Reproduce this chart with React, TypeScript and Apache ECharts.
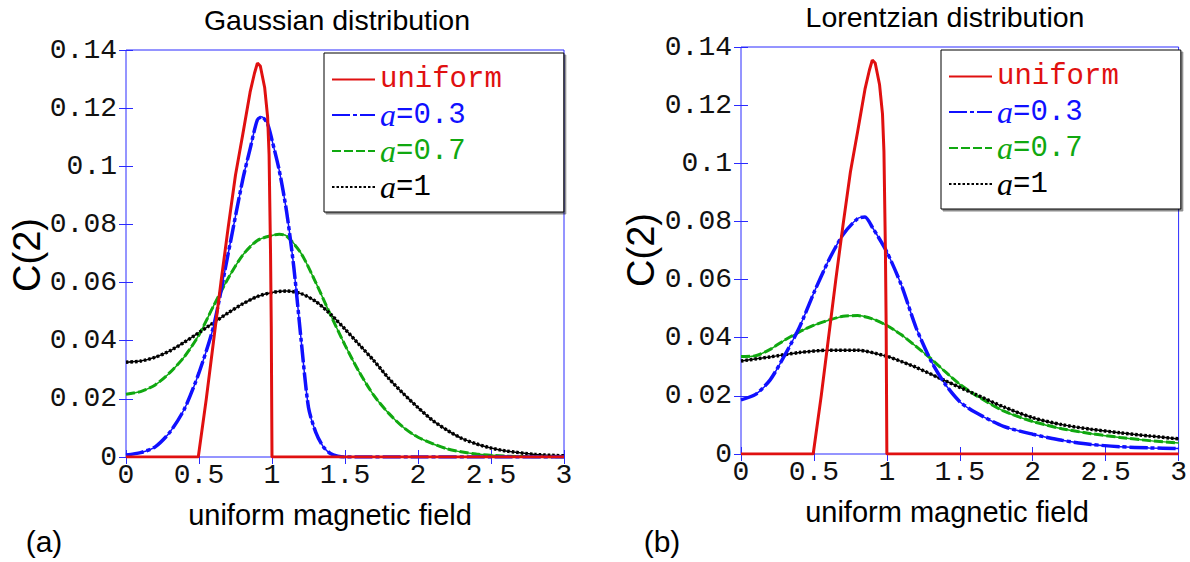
import React, { useEffect, useRef } from "react";
import * as echarts from "echarts";

// ---------------- data ----------------
const xTicks = [0, 0.5, 1, 1.5, 2, 2.5, 3];
const yTicks = [0, 0.02, 0.04, 0.06, 0.08, 0.1, 0.12, 0.14];
const seriesNames = ["uniform", "a=0.3", "a=0.7", "a=1"];

// uniform field (same in both panels)
const uniformX = [0, 0.495, 0.55, 0.6, 0.65, 0.7, 0.75, 0.8, 0.85, 0.88, 0.9, 0.92, 0.95, 0.97, 0.98, 0.99, 0.995, 1.0, 3];
const uniformY = [0, 0, 0.02, 0.04, 0.06, 0.079, 0.097, 0.111, 0.1255, 0.132, 0.1355, 0.1345, 0.127, 0.117, 0.104, 0.07, 0.045, 0, 0];

// (a) Gaussian distribution
const gaussX03 = [0, 0.1, 0.2, 0.3, 0.4, 0.5, 0.6, 0.7, 0.8, 0.85, 0.9, 0.93, 0.97, 1.0, 1.05, 1.1, 1.15, 1.2, 1.25, 1.3, 1.35, 1.4, 1.45, 1.5, 2, 2.5, 3];
const gaussY03 = [0.0007, 0.0015, 0.0035, 0.0085, 0.0165, 0.029, 0.045, 0.07, 0.0955, 0.106, 0.116, 0.117, 0.1145, 0.109, 0.0985, 0.0844, 0.065, 0.04, 0.017, 0.0085, 0.0036, 0.0012, 0.0003, 0, 0, 0, 0];

const gaussX07 = [0, 0.1, 0.2, 0.3, 0.4, 0.5, 0.6, 0.7, 0.8, 0.9, 1.0, 1.05, 1.1, 1.2, 1.3, 1.4, 1.5, 1.6, 1.7, 1.8, 1.9, 2.0, 2.2, 2.4, 2.6, 2.8, 3];
const gaussY07 = [0.0216, 0.0225, 0.0248, 0.029, 0.0345, 0.042, 0.052, 0.0615, 0.0695, 0.0745, 0.0762, 0.0766, 0.076, 0.07, 0.06, 0.049, 0.0385, 0.029, 0.021, 0.015, 0.0102, 0.0068, 0.0028, 0.001, 0.0003, 0.0001, 0];

const gaussX1 = [0, 0.1, 0.2, 0.3, 0.4, 0.5, 0.6, 0.7, 0.8, 0.9, 1.0, 1.1, 1.2, 1.3, 1.4, 1.5, 1.6, 1.7, 1.8, 1.9, 2.0, 2.1, 2.2, 2.3, 2.4, 2.5, 2.6, 2.8, 3];
const gaussY1 = [0.0326, 0.033, 0.0343, 0.0365, 0.0395, 0.0428, 0.0462, 0.0496, 0.0527, 0.0552, 0.0566, 0.0571, 0.0562, 0.0535, 0.0492, 0.044, 0.0385, 0.033, 0.027, 0.0218, 0.017, 0.0126, 0.0092, 0.0064, 0.0045, 0.0031, 0.0021, 0.0009, 0.0004];

// (b) Lorentzian distribution
const lorX03 = [0, 0.1, 0.2, 0.3, 0.4, 0.5, 0.6, 0.7, 0.8, 0.85, 0.9, 1.0, 1.1, 1.2, 1.3, 1.4, 1.5, 1.6, 1.8, 2.0, 2.2, 2.4, 2.6, 2.8, 3];
const lorY03 = [0.0186, 0.0205, 0.0255, 0.034, 0.0435, 0.0555, 0.0665, 0.0755, 0.081, 0.0815, 0.078, 0.0695, 0.058, 0.0435, 0.0323, 0.024, 0.018, 0.0145, 0.0095, 0.0068, 0.0047, 0.0033, 0.0025, 0.0021, 0.0019];

const lorX07 = [0, 0.1, 0.2, 0.3, 0.4, 0.5, 0.6, 0.7, 0.8, 0.9, 1.0, 1.1, 1.2, 1.3, 1.4, 1.5, 1.6, 1.8, 2.0, 2.2, 2.4, 2.6, 2.8, 3];
const lorY07 = [0.0335, 0.0338, 0.036, 0.0392, 0.042, 0.0443, 0.046, 0.0474, 0.0476, 0.0465, 0.0442, 0.041, 0.037, 0.0329, 0.0283, 0.024, 0.0205, 0.0148, 0.0112, 0.0087, 0.007, 0.0057, 0.0046, 0.0038];

const lorX1 = [0, 0.2, 0.4, 0.6, 0.8, 1.0, 1.1, 1.2, 1.4, 1.6, 1.8, 2.0, 2.2, 2.4, 2.6, 2.8, 3];
const lorY1 = [0.032, 0.0334, 0.0349, 0.0357, 0.0357, 0.0336, 0.0318, 0.0298, 0.0252, 0.0207, 0.0162, 0.0125, 0.0101, 0.0085, 0.0073, 0.0062, 0.0052];

// ---------------- styles ----------------
const RED = "#e01010";
const BLUE = "#1010ff";
const GREEN = "#10a810";
const BLACK = "#000000";
const AXIS_BLUE = "#2a2aff";
const MONO = "'Liberation Mono', 'DejaVu Sans Mono', monospace";
const SANS = "'Liberation Sans', Arial, sans-serif";
const SERIF = "'Liberation Serif', 'Times New Roman', serif";

const zip = (xs: number[], ys: number[]) => xs.map((x, i) => [x, ys[i]]);

const lineStyles: Record<string, any> = {
  uniform: { color: RED, width: 3, type: "solid" },
  "a=0.3": { color: BLUE, width: 3.5, type: [18, 3, 4, 3] },
  "a=0.7": { color: GREEN, width: 3, type: [9, 3] },
  "a=1": { color: BLACK, width: 3.5, type: [2.5, 2] },
};
const colors: Record<string, string> = { uniform: RED, "a=0.3": BLUE, "a=0.7": GREEN, "a=1": BLACK };

function makeSeries(name: string, data: number[][], idx: number) {
  return {
    type: "line",
    name,
    data,
    xAxisIndex: idx * 2,
    yAxisIndex: idx * 2,
    symbol: "none",
    smooth: name === "uniform" ? false : 0.25,
    lineStyle: lineStyles[name],
    itemStyle: { color: colors[name] },
    z: name === "uniform" ? 6 : name === "a=0.3" ? 5 : 4,
  };
}

// thin continuous underlay under the dashed curves
function makeBase(name: string, data: number[][], idx: number) {
  return {
    type: "line",
    name: name + " ",
    data,
    xAxisIndex: idx * 2,
    yAxisIndex: idx * 2,
    symbol: "none",
    smooth: 0.25,
    lineStyle: { color: colors[name], width: 1.5, type: "solid" },
    z: 3,
  };
}

function axesFor(grid: number) {
  const common = { min: 0, gridIndex: grid, type: "value" as const };
  const tick = { show: true, inside: true, length: 7, lineStyle: { color: AXIS_BLUE, width: 1 } };
  const xs = [
    {
      ...common,
      max: 3,
      interval: 0.5,
      position: "bottom",
      axisLine: { show: false },
      axisTick: tick,
      splitLine: { show: false },
      axisLabel: { color: "#111", fontFamily: MONO, fontSize: 28, margin: 4 },
    },
    {
      ...common,
      max: 3,
      interval: 0.5,
      position: "top",
      axisLine: { show: false },
      axisTick: tick,
      splitLine: { show: false },
      axisLabel: { show: false },
    },
  ];
  const ys = [
    {
      ...common,
      max: 0.14,
      interval: 0.02,
      position: "left",
      axisLine: { show: false },
      axisTick: tick,
      splitLine: { show: false },
      axisLabel: { color: "#111", fontFamily: MONO, fontSize: 28, margin: 9 },
    },
    {
      ...common,
      max: 0.14,
      interval: 0.02,
      position: "right",
      axisLine: { show: false },
      axisTick: tick,
      splitLine: { show: false },
      axisLabel: { show: false },
    },
  ];
  return { xs, ys };
}

const legendRich = {
  r: { color: RED, fontFamily: MONO, fontSize: 29 },
  bi: { color: BLUE, fontFamily: SERIF, fontStyle: "italic", fontSize: 32 },
  bm: { color: BLUE, fontFamily: MONO, fontSize: 29 },
  gi: { color: GREEN, fontFamily: SERIF, fontStyle: "italic", fontSize: 32 },
  gm: { color: GREEN, fontFamily: MONO, fontSize: 29 },
  ki: { color: BLACK, fontFamily: SERIF, fontStyle: "italic", fontSize: 32 },
  km: { color: BLACK, fontFamily: MONO, fontSize: 29 },
};

function legendFormatter(name: string) {
  if (name === "uniform") return "{r|uniform}";
  const rest = name.slice(1);
  const k = name === "a=0.3" ? "b" : name === "a=0.7" ? "g" : "k";
  return `{${k}i|a}{${k}m|${rest}}`;
}

function makeLegend(left: number, top: number) {
  return {
    data: seriesNames,
    orient: "vertical",
    left,
    top,
    itemWidth: 43,
    itemHeight: 14,
    itemGap: 4,
    padding: [11, 62, 9, 7],
    backgroundColor: "#ffffff",
    borderColor: "#000",
    borderWidth: 1,
    borderRadius: 0,
    shadowColor: "rgba(0,0,0,0.45)",
    shadowOffsetX: 2,
    shadowOffsetY: 2,
    shadowBlur: 0,
    selectedMode: false,
    itemStyle: { opacity: 0, borderWidth: 0 },
    formatter: legendFormatter,
    textStyle: { lineHeight: 31, rich: legendRich },
  };
}

export default function App() {
  const ref = useRef<HTMLDivElement>(null);
  useEffect(() => {
    if (!ref.current) return;
    const chart = echarts.init(ref.current, undefined, { renderer: "svg" });
    const a = axesFor(0);
    const b = axesFor(1);
    const option: any = {
      animation: false,
      backgroundColor: "#ffffff",
      grid: [
        { left: 126, top: 50, width: 438, height: 407, show: true, borderColor: AXIS_BLUE, borderWidth: 1, backgroundColor: "transparent" },
        { left: 741, top: 47, width: 441, height: 407, show: true, borderColor: AXIS_BLUE, borderWidth: 1, backgroundColor: "transparent" },
      ],
      xAxis: [...a.xs, ...b.xs],
      yAxis: [...a.ys, ...b.ys],
      legend: [makeLegend(324, 53), makeLegend(941, 50)],
      series: [
        makeBase("a=0.3", zip(gaussX03, gaussY03), 0),
        makeBase("a=0.7", zip(gaussX07, gaussY07), 0),
        makeBase("a=1", zip(gaussX1, gaussY1), 0),
        makeBase("a=0.3", zip(lorX03, lorY03), 1),
        makeBase("a=0.7", zip(lorX07, lorY07), 1),
        makeBase("a=1", zip(lorX1, lorY1), 1),
        makeSeries("uniform", zip(uniformX, uniformY), 0),
        makeSeries("a=0.3", zip(gaussX03, gaussY03), 0),
        makeSeries("a=0.7", zip(gaussX07, gaussY07), 0),
        makeSeries("a=1", zip(gaussX1, gaussY1), 0),
        makeSeries("uniform", zip(uniformX, uniformY), 1),
        makeSeries("a=0.3", zip(lorX03, lorY03), 1),
        makeSeries("a=0.7", zip(lorX07, lorY07), 1),
        makeSeries("a=1", zip(lorX1, lorY1), 1),
      ],
      graphic: [
        { type: "text", x: 337, y: 20, style: { text: "Gaussian distribution", font: `28.5px ${SANS}`, fill: "#000", align: "center", verticalAlign: "middle" } },
        { type: "text", x: 945, y: 17, style: { text: "Lorentzian distribution", font: `28.5px ${SANS}`, fill: "#000", align: "center", verticalAlign: "middle" } },
        { type: "text", x: 330, y: 515, style: { text: "uniform magnetic field", font: `29px ${SANS}`, fill: "#000", align: "center", verticalAlign: "middle" } },
        { type: "text", x: 947, y: 512, style: { text: "uniform magnetic field", font: `29px ${SANS}`, fill: "#000", align: "center", verticalAlign: "middle" } },
        { type: "text", x: 27, y: 255, rotation: Math.PI / 2, style: { text: "C(2)", font: `38px ${SANS}`, fill: "#000", align: "center", verticalAlign: "middle" } },
        { type: "text", x: 641, y: 250, rotation: Math.PI / 2, style: { text: "C(2)", font: `38px ${SANS}`, fill: "#000", align: "center", verticalAlign: "middle" } },
        { type: "text", x: 44, y: 541, style: { text: "(a)", font: `30px ${SANS}`, fill: "#000", align: "center", verticalAlign: "middle" } },
        { type: "text", x: 662, y: 541, style: { text: "(b)", font: `30px ${SANS}`, fill: "#000", align: "center", verticalAlign: "middle" } },
      ],
    };
    chart.setOption(option);
    return () => chart.dispose();
  }, []);
  return <div ref={ref} style={{ position: "fixed", left: 0, top: 0, width: 1190, height: 562 }} />;
}
